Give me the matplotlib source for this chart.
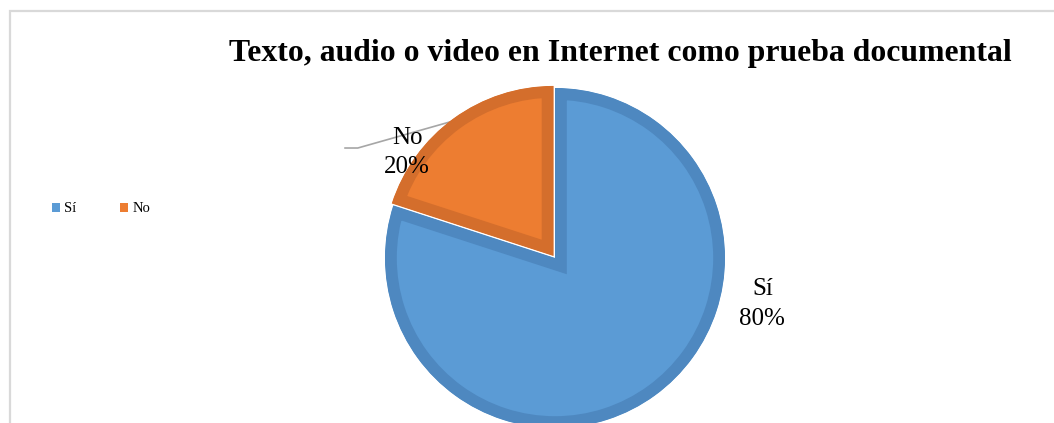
import matplotlib.pyplot as plt
from matplotlib.patches import Rectangle, Patch
import numpy as np

# data
categories = ["Sí", "No"]
values = [80, 20]
colors = ["#5B9BD5", "#ED7D31"]
edge_colors = ["#4E88C0", "#D46E2C"]

title = "Texto, audio o video en Internet como prueba documental"

W, H = 1054, 423
fig = plt.figure(figsize=(W / 100, H / 100), dpi=100)
plt.rcParams['font.family'] = ['Liberation Serif', 'DejaVu Serif']

# light frame around the chart area (right and bottom fall outside the picture)
fig.patches.append(Rectangle((9.5 / W, -0.1), 1.2, (H - 11) / H + 0.1,
                             transform=fig.transFigure, fill=False,
                             edgecolor="#D9D9D9", linewidth=1.6))

# pie axes: center (555, 258) px, radius 170 px
cx, cy, r = 555, 258, 170
lim = 1.15
ax = fig.add_axes([(cx - r * lim) / W, (H - cy - r * lim) / H,
                   2 * r * lim / W, 2 * r * lim / H])
wedges, _ = ax.pie(values, colors=colors, startangle=90, counterclock=False,
                   explode=[0, 0.015], radius=1)
ax.set_xlim(-lim, lim)
ax.set_ylim(-lim, lim)
ax.set_aspect('equal')
ax.axis('off')

# darker inner border on every slice (stroke clipped to the slice itself)
for w, ec in zip(wedges, edge_colors):
    w.set_edgecolor(ec)
    w.set_linewidth(17)
    w.set_clip_path(w)
    w.set_clip_on(True)

total = sum(values)
label_pos = [(1.22, -0.27), (-0.87, 0.62)]
for cat, v, (lx, ly) in zip(categories, values, label_pos):
    ax.text(lx, ly, f"{cat}\n{v / total:.0%}", ha="center", va="center",
            fontsize=18, linespacing=1.45, clip_on=False)

# leader line for the small slice
ang = np.deg2rad(90 + 360 * values[1] / total / 2)
x0, y0 = np.cos(ang), np.sin(ang)
ax.plot([x0, -1.16, -1.235], [y0, 0.647, 0.647], color="#A6A6A6",
        linewidth=1.2, clip_on=False, zorder=0)

fig.text(620 / W, 1 - 54 / H, title, ha="center", va="center",
         fontsize=22.9, fontweight="bold")

# legend
handles = [Patch(facecolor=c, edgecolor="none") for c in colors]
fig.legend(handles, categories, loc="center left", bbox_to_anchor=(52 / W, 1 - 209 / H),
           ncol=2, frameon=False, fontsize=10.5, handlelength=0.55, handleheight=0.55,
           handletextpad=0.3, columnspacing=3.0, borderaxespad=0, borderpad=0)

fig.savefig("out.png", dpi=100)
